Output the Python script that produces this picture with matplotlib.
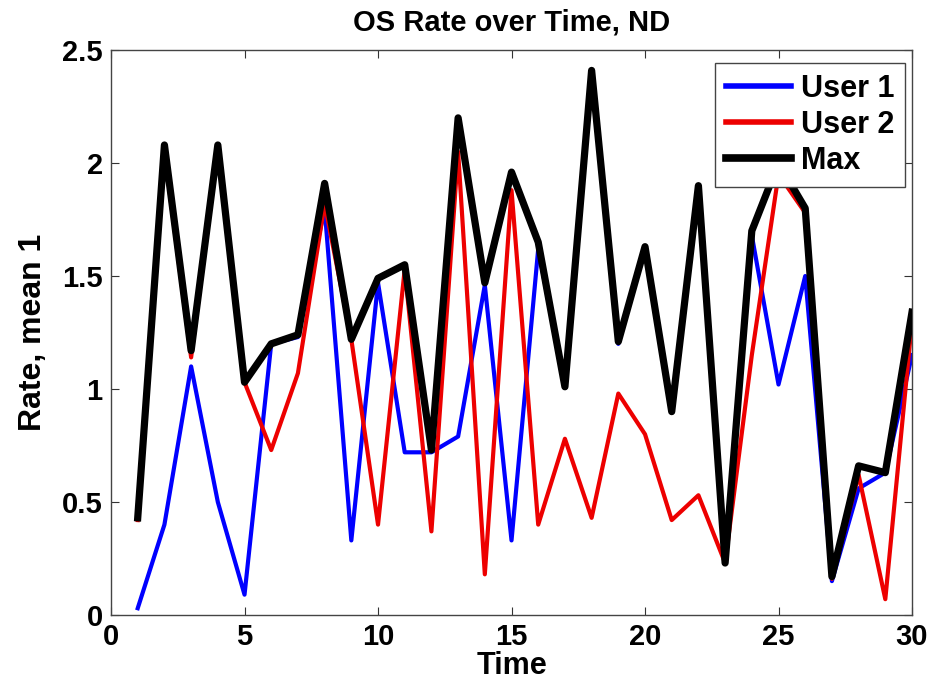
import matplotlib
matplotlib.use("Agg")
import matplotlib.pyplot as plt

time = list(range(1, 31))
user1 = [0.03, 0.40, 1.10, 0.50, 0.09, 1.20, 1.23, 1.80, 0.33, 1.47,
         0.72, 0.72, 0.79, 1.46, 0.33, 1.62, 1.01, 2.38, 1.20, 1.62,
         0.90, 1.88, 0.23, 1.68, 1.02, 1.50, 0.15, 0.56, 0.63, 1.15]
user2 = [0.42, 2.05, 1.14, 2.06, 1.03, 0.73, 1.07, 1.82, 1.22, 0.40,
         1.53, 0.37, 2.05, 0.18, 1.88, 0.40, 0.78, 0.43, 0.98, 0.80,
         0.42, 0.53, 0.23, 1.15, 1.95, 1.78, 0.16, 0.62, 0.07, 1.30]
maxrate = [0.43, 2.08, 1.17, 2.08, 1.03, 1.20, 1.24, 1.91, 1.22, 1.49,
           1.55, 0.73, 2.20, 1.47, 1.96, 1.65, 1.01, 2.41, 1.21, 1.63,
           0.90, 1.90, 0.23, 1.70, 2.00, 1.80, 0.17, 0.66, 0.63, 1.34]

xticks = [0, 5, 10, 15, 20, 25, 30]
yticks = [0, 0.5, 1, 1.5, 2, 2.5]
ytick_labels = ["0", "0.5", "1", "1.5", "2", "2.5"]

plt.rcParams['font.family'] = ['Liberation Sans', 'DejaVu Sans']
plt.rcParams['font.weight'] = 'bold'

fig = plt.figure(figsize=(9.33, 6.86), dpi=100)
ax = fig.add_axes([0.119, 0.1035, 0.8585, 0.8235])

l1, = ax.plot(time, user1, color=(0, 0, 1), lw=3.0, label="User 1", zorder=2)
l2, = ax.plot(time, user2, color=(0.93, 0, 0), lw=3.0, label="User 2", zorder=2)
l3, = ax.plot(time, maxrate, color="black", lw=5.2, label="Max", zorder=3)

ax.set_xlim(0, 30)
ax.set_ylim(0, 2.5)
ax.set_xticks(xticks)
ax.set_xticklabels([str(t) for t in xticks])
ax.set_yticks(yticks)
ax.set_yticklabels(ytick_labels)
ax.tick_params(direction='in', length=6, width=0.8, top=True, right=True,
               labelsize=21, pad=6, colors='#333333', labelcolor='black')
for s in ax.spines.values():
    s.set_linewidth(1.0)
    s.set_color('#444444')

ax.set_title("OS Rate over Time, ND", fontsize=21, fontweight='bold', pad=14)
ax.set_xlabel("Time", fontsize=22, fontweight='bold', labelpad=0)
ax.set_ylabel("Rate, mean 1", fontsize=23, fontweight='bold', labelpad=10)

leg = ax.legend(handles=[l1, l2, l3], loc='upper right', bbox_to_anchor=(0.991, 0.977),
                fontsize=22, frameon=True, fancybox=False, borderaxespad=0,
                handlelength=2.15, handletextpad=0.3, labelspacing=0.2,
                borderpad=0.35, framealpha=1.0)
leg.set_zorder(10)
leg.get_frame().set_edgecolor('#444444')
leg.get_frame().set_linewidth(1.0)
lines = leg.get_lines()
lines[0].set_linewidth(4.0)
lines[1].set_linewidth(4.0)
lines[2].set_linewidth(5.5)

fig.savefig("out.png", dpi=100)
